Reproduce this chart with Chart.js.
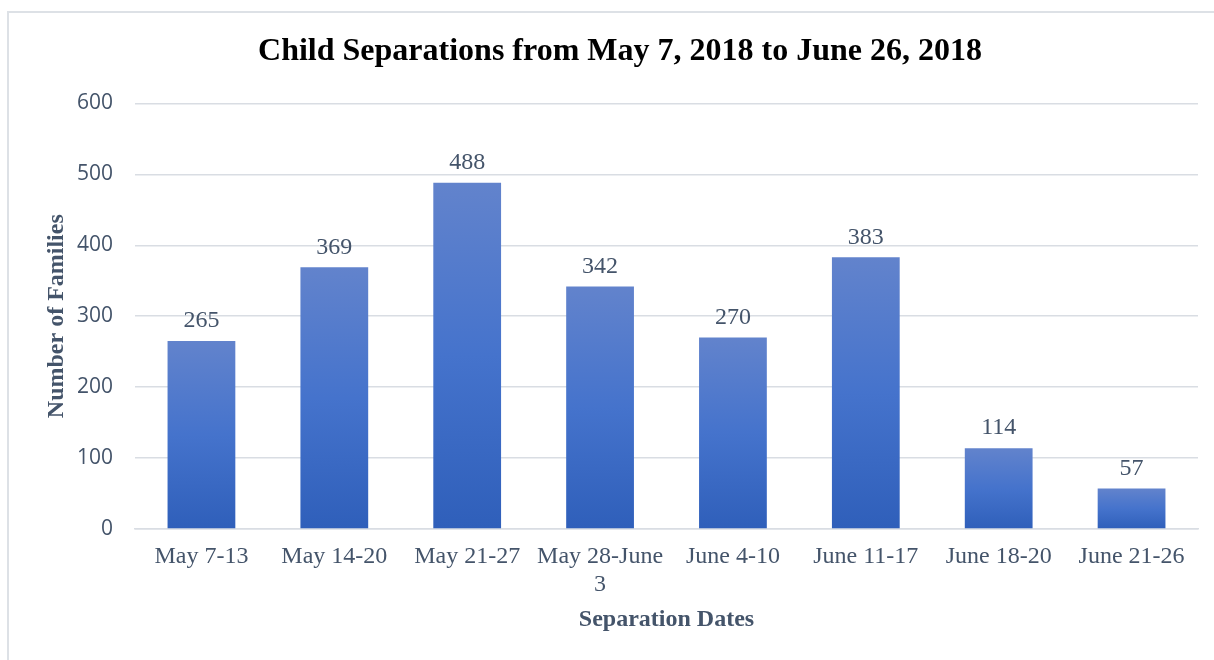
<!DOCTYPE html>
<html>
<head>
<meta charset="utf-8">
<script src="https://cdn.jsdelivr.net/npm/chart.js@4.4.1/dist/chart.umd.min.js"></script>
<style>
body{margin:0;background:#fff;}
#frame{position:absolute;left:7px;top:11px;width:1220px;height:660px;border-left:2px solid #dde1e6;border-top:2px solid #dde1e6;}
#wrap{position:absolute;left:0;top:0;width:1214px;height:660px;}
</style>
</head>
<body>
<div id="frame"></div>
<div id="wrap"><canvas id="chart"></canvas></div>
<script>
// data
let categories=["May 7-13","May 14-20","May 21-27",["May 28-June","3"],"June 4-10","June 11-17","June 18-20","June 21-26"];
let families=[265,369,488,342,270,383,114,57];
let yTicks=[0,100,200,300,400,500,600];

let textColor="#44546a";

// value labels above each bar
let barLabels={
id:"barLabels",
afterDatasetsDraw(chart){
let ctx=chart.ctx;
let meta=chart.getDatasetMeta(0);
ctx.save();
ctx.font="24px 'Liberation Serif'";
ctx.fillStyle=textColor;
ctx.textAlign="center";
ctx.textBaseline="bottom";
meta.data.forEach((bar,i)=>{
ctx.fillText(families[i],bar.x,bar.y-8);
});
ctx.restore();
}
};

function barFill(context){
let chart=context.chart;
let area=chart.chartArea;
if(!area) return "#4472c4";
let y=chart.scales.y;
let top=y.getPixelForValue(families[context.dataIndex]);
let bottom=y.getPixelForValue(0);
let g=chart.ctx.createLinearGradient(0,top,0,bottom);
g.addColorStop(0,"#6283cc");
g.addColorStop(0.5,"#4573cc");
g.addColorStop(1,"#2f5fba");
return g;
}

let ctx=document.getElementById("chart").getContext("2d");

new Chart(ctx,{
type:"bar",
data:{
labels:categories,
datasets:[{
data:families,
backgroundColor:barFill,
barPercentage:1,
categoryPercentage:0.51
}]
},
options:{
responsive:true,
maintainAspectRatio:false,
animation:false,
layout:{padding:{top:20,left:42,right:16,bottom:25}},
plugins:{
legend:{display:false},
tooltip:{enabled:false},
title:{
display:true,
text:"Child Separations from May 7, 2018 to June 26, 2018",
color:"#000",
font:{family:"Liberation Serif",size:32,weight:"bold"},
padding:{top:13,bottom:32}
}
},
scales:{
x:{
afterFit(axis){axis.height=106;},
grid:{display:false},
border:{color:"#d9dde3",width:1.5},
ticks:{
color:textColor,
font:{family:"Liberation Serif",size:24,lineHeight:1.17},
padding:6,
maxRotation:0,
autoSkip:false
},
title:{
display:true,
text:"Separation Dates",
color:textColor,
font:{family:"Liberation Serif",size:24,weight:"bold"},
padding:{top:0,bottom:1}
}
},
y:{
min:0,
max:600,
afterFit(axis){axis.width=93;},
afterBuildTicks(axis){
axis.ticks=yTicks.map(v=>({value:v}));
},
grid:{color:"#d9dde3",lineWidth:1.5,drawTicks:false},
border:{display:false},
ticks:{
color:textColor,
font:{family:"Open Sans",size:21},
padding:22
},
title:{
display:true,
text:"Number of Families",
color:textColor,
font:{family:"Liberation Serif",size:24,weight:"bold"},
padding:{top:0,bottom:5}
}
}
}
},
plugins:[barLabels]
});
</script>
</body>
</html>
